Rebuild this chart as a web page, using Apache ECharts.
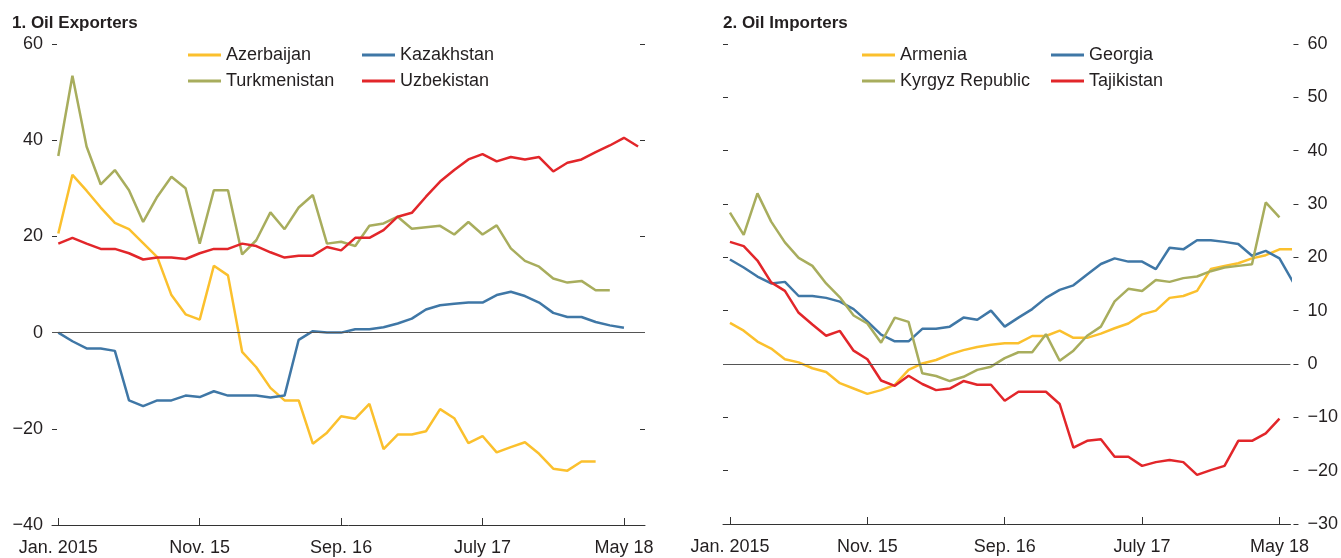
<!DOCTYPE html>
<html>
<head>
<meta charset="utf-8">
<script src="https://cdn.jsdelivr.net/npm/echarts@6/dist/echarts.min.js"></script>
<style>
html, body { margin: 0; padding: 0; background: #fff; }
#chart { width: 1341px; height: 558px; }
</style>
</head>
<body>
<div id="chart"></div>
<script>
// month index 0 = Jan. 2015, 41 = June 2018
var tickIdx = [0, 10, 20, 30, 40];
var tickLabels = ['Jan. 2015', 'Nov. 15', 'Sep. 16', 'July 17', 'May 18'];

// 1. Oil Exporters
var azerbaijan = [20.6, 32.8, 29.5, 26.0, 22.8, 21.5, 18.6, 15.7, 7.8, 3.8, 2.7, 13.9, 11.9, -4.0, -7.2, -11.5, -14.1, -14.1, -23.1, -20.8, -17.4, -17.9, -14.8, -24.2, -21.2, -21.2, -20.5, -15.9, -17.8, -23.0, -21.5, -24.9, -23.8, -22.8, -25.2, -28.3, -28.7, -26.8, -26.8];
var kazakhstan = [0, -1.8, -3.3, -3.3, -3.8, -14.1, -15.3, -14.1, -14.1, -13.1, -13.4, -12.2, -13.1, -13.1, -13.1, -13.5, -13.1, -1.5, 0.3, 0, 0, 0.7, 0.7, 1.1, 1.9, 2.9, 4.8, 5.7, 6.0, 6.25, 6.25, 7.8, 8.5, 7.6, 6.25, 4.1, 3.25, 3.25, 2.2, 1.5, 1.0];
var turkmenistan = [36.7, 53.4, 38.7, 30.8, 33.8, 29.6, 23.0, 28.25, 32.4, 30.0, 18.5, 29.6, 29.6, 16.25, 19.2, 25.0, 21.5, 26.0, 28.6, 18.5, 18.9, 18.0, 22.2, 22.7, 24.1, 21.6, 21.9, 22.2, 20.4, 23.0, 20.4, 22.3, 17.5, 14.9, 13.7, 11.25, 10.4, 10.75, 8.8, 8.8];
var uzbekistan = [18.5, 19.7, 18.5, 17.4, 17.4, 16.5, 15.2, 15.6, 15.6, 15.3, 16.5, 17.4, 17.4, 18.5, 18.0, 16.7, 15.6, 16.0, 16.0, 17.8, 17.1, 19.7, 19.7, 21.3, 24.1, 24.9, 28.25, 31.4, 33.8, 36.0, 37.1, 35.6, 36.5, 36.0, 36.5, 33.5, 35.3, 36.0, 37.5, 38.9, 40.5, 38.7];

// 2. Oil Importers
var armenia = [7.7, 6.25, 4.2, 2.9, 0.9, 0.3, -0.8, -1.5, -3.6, -4.6, -5.6, -4.9, -3.9, -1.1, 0.1, 0.75, 1.8, 2.6, 3.2, 3.6, 3.9, 3.9, 5.25, 5.25, 6.25, 4.9, 4.9, 5.7, 6.7, 7.6, 9.3, 10.0, 12.4, 12.75, 13.7, 17.8, 18.4, 18.9, 19.8, 20.4, 21.5, 21.5];
var georgia = [19.6, 18.1, 16.4, 15.1, 15.4, 12.75, 12.75, 12.4, 11.7, 10.3, 8.0, 5.5, 4.25, 4.25, 6.6, 6.6, 7.0, 8.7, 8.3, 10.0, 7.0, 8.7, 10.3, 12.4, 13.9, 14.75, 16.8, 18.75, 19.8, 19.2, 19.2, 17.8, 21.8, 21.5, 23.2, 23.2, 22.9, 22.5, 20.3, 21.2, 19.8, 15.3];
var kyrgyz = [28.4, 24.2, 32.0, 26.7, 22.8, 19.9, 18.4, 15.1, 12.5, 9.1, 7.6, 4.0, 8.7, 7.9, -1.75, -2.25, -3.2, -2.4, -1.1, -0.5, 1.1, 2.2, 2.2, 5.6, 0.6, 2.5, 5.3, 7.0, 11.75, 14.1, 13.7, 15.75, 15.4, 16.1, 16.4, 17.4, 18.1, 18.4, 18.7, 30.3, 27.5];
var tajikistan = [22.9, 22.1, 19.4, 15.3, 13.7, 9.6, 7.4, 5.3, 6.2, 2.5, 0.9, -3.1, -4.1, -2.2, -3.75, -4.9, -4.6, -3.2, -3.9, -3.9, -6.9, -5.2, -5.2, -5.2, -7.5, -15.7, -14.4, -14.1, -17.4, -17.4, -19.1, -18.4, -18.0, -18.4, -20.8, -19.9, -19.1, -14.4, -14.4, -13.0, -10.25];

var FONT = "'Liberation Sans Narrow', 'Arial Narrow', 'Liberation Sans', sans-serif";
var TXT = '#231f20';
var AX = '#333333';
var YELLOW = '#fbc02d', BLUE = '#3f77a6', OLIVE = '#a8ad5d', RED = '#e2262a';

function pairs(arr) {
    return arr.map(function (v, i) { return [i, v]; });
}
function minus(v) {
    return String(v).replace('-', '\u2212');
}

function xAxisCfg(grid, min, max) {
    return {
        type: 'value', gridIndex: grid, min: min, max: max,
        splitLine: { show: false },
        axisLine: { onZero: false, lineStyle: { color: AX, width: 1 } },
        axisTick: { inside: true, length: 7, customValues: tickIdx, lineStyle: { color: AX } },
        axisLabel: {
            customValues: tickIdx, margin: 14, fontSize: 18, fontFamily: FONT, color: TXT,
            formatter: function (v) { return tickLabels[tickIdx.indexOf(v)]; }
        }
    };
}
function yAxisCfg(grid, pos, min, max, step, labels, inside, offset) {
    return {
        type: 'value', gridIndex: grid, position: pos, min: min, max: max, interval: step,
        offset: offset || 0,
        splitLine: { show: false },
        axisLine: { show: false, onZero: false },
        axisTick: { show: true, inside: inside, length: 5, lineStyle: { color: AX } },
        axisLabel: {
            show: labels, fontSize: 18, fontFamily: FONT, color: TXT,
            margin: pos === 'left' ? 9 : 14,
            formatter: minus
        }
    };
}
function line(name, data, color, xi, yi, zero) {
    var s = {
        name: name, type: 'line', data: pairs(data), xAxisIndex: xi, yAxisIndex: yi,
        symbol: 'none', clip: false,
        lineStyle: { color: color, width: 2.5 }, itemStyle: { color: color }
    };
    if (zero) {
        s.markLine = {
            silent: true, symbol: ['none', 'none'], label: { show: false },
            lineStyle: { color: '#555', width: 1, type: 'solid' },
            data: [{ yAxis: 0 }]
        };
    }
    return s;
}
function legend(left, names) {
    return {
        left: left, top: 46, padding: 0, orient: 'vertical', itemGap: 8,
        itemWidth: 33, itemHeight: 3, icon: 'rect',
        data: names, selectedMode: false,
        textStyle: { fontSize: 18, fontFamily: FONT, color: TXT, lineHeight: 17 }
    };
}

var chart = echarts.init(document.getElementById('chart'));
chart.setOption({
    animation: false,
    title: [
        { text: '1. Oil Exporters', left: 7, top: 10, textStyle: { fontSize: 17, fontWeight: 'bold', fontFamily: FONT, color: TXT } },
        { text: '2. Oil Importers', left: 718, top: 10, textStyle: { fontSize: 17, fontWeight: 'bold', fontFamily: FONT, color: TXT } }
    ],
    legend: [
        legend(188, ['Azerbaijan', 'Turkmenistan']),
        legend(362, ['Kazakhstan', 'Uzbekistan']),
        legend(862, ['Armenia', 'Kyrgyz Republic']),
        legend(1051, ['Georgia', 'Tajikistan'])
    ],
    grid: [
        { left: 52, top: 44, width: 593, height: 481 },
        { left: 723, top: 44, width: 570, height: 480 }
    ],
    xAxis: [
        xAxisCfg(0, -0.445, 41.49),
        xAxisCfg(1, -0.507, 40.8)
    ],
    yAxis: [
        yAxisCfg(0, 'left', -40, 60, 20, true, true),
        yAxisCfg(0, 'right', -40, 60, 20, false, true),
        yAxisCfg(1, 'left', -30, 60, 10, false, true),
        yAxisCfg(1, 'right', -30, 60, 10, true, false, 3)
    ],
    series: [
        line('Azerbaijan', azerbaijan, YELLOW, 0, 0, true),
        line('Kazakhstan', kazakhstan, BLUE, 0, 0),
        line('Turkmenistan', turkmenistan, OLIVE, 0, 0),
        line('Uzbekistan', uzbekistan, RED, 0, 0),
        line('Armenia', armenia, YELLOW, 1, 3, true),
        line('Georgia', georgia, BLUE, 1, 3),
        line('Kyrgyz Republic', kyrgyz, OLIVE, 1, 3),
        line('Tajikistan', tajikistan, RED, 1, 3)
    ]
});
</script>
</body>
</html>
